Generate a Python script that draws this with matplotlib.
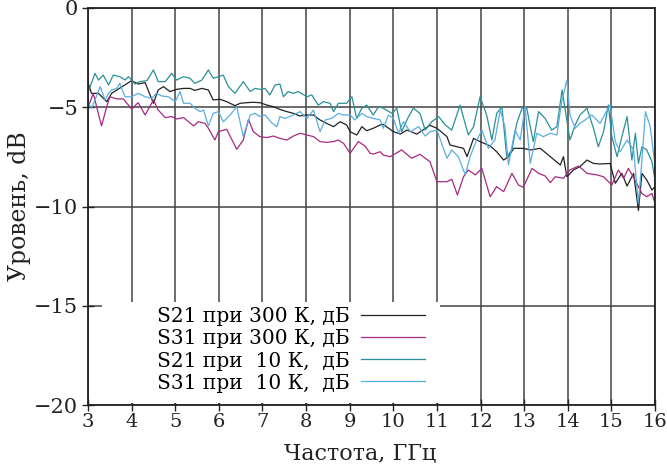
import matplotlib
matplotlib.use("Agg")
import matplotlib.pyplot as plt
from matplotlib.patches import Rectangle

plt.rcParams['font.family'] = ['DejaVu Serif']
plt.rcParams['mathtext.fontset'] = 'dejavuserif'

# S21 при 300 К
f_s21_300 = [3.01, 3.08, 3.24, 3.43, 3.54, 4.00, 4.15, 4.31, 4.50, 4.61, 4.73, 4.88, 5.03,
             5.19, 5.34, 5.45, 5.61, 5.76, 5.87, 6.03, 6.18, 6.37, 6.49, 6.64, 6.79, 6.94,
             7.10, 7.25, 7.40, 7.56, 7.71, 7.86, 8.02, 8.17, 8.32, 8.47, 8.63, 8.78, 8.93,
             9.01, 9.16, 9.28, 9.39, 9.54, 9.70, 9.77, 10.0, 10.16, 10.31, 10.54, 10.84,
             11.0, 11.23, 11.30, 11.46, 11.61, 11.69, 11.84, 11.99, 12.22, 12.37, 12.53,
             12.64, 12.76, 12.98, 13.14, 13.37, 13.60, 13.83, 13.90, 13.98, 14.13, 14.28,
             14.44, 14.59, 14.74, 14.97, 15.09, 15.24, 15.36, 15.51, 15.62, 15.70, 15.81,
             15.93, 16.0]
s21_300 = [-3.83, -4.30, -4.30, -4.72, -4.30, -3.66, -3.83, -3.76, -4.80, -4.13, -3.96, -4.21, -4.10,
           -4.05, -4.05, -4.15, -4.05, -4.13, -4.63, -4.60, -4.72, -4.92, -4.80, -4.77, -4.75, -4.77,
           -4.89, -4.97, -5.11, -5.22, -5.31, -5.44, -5.39, -5.39, -5.64, -5.81, -5.98, -5.73, -5.89,
           -6.23, -6.40, -5.98, -6.18, -6.06, -5.89, -5.86, -6.23, -6.35, -6.15, -6.35, -5.91,
           -6.06, -6.48, -6.90, -6.99, -7.07, -7.49, -6.57, -6.73, -6.95, -7.24, -7.66,
           -7.49, -7.07, -7.07, -7.15, -7.07, -7.49, -7.91, -7.49, -8.50, -8.16, -7.99,
           -7.66, -7.83, -7.86, -7.83, -8.83, -8.33, -8.97, -8.33, -10.2, -8.33, -8.66,
           -9.17, -9.00]

# S31 при 300 К
f_s31_300 = [3.01, 3.12, 3.31, 3.43, 3.50, 3.66, 3.81, 4.00, 4.15, 4.31, 4.50, 4.61, 4.77, 4.92,
             5.03, 5.19, 5.42, 5.53, 5.68, 5.76, 5.91, 5.99, 6.18, 6.41, 6.56, 6.68, 6.79, 6.94,
             7.10, 7.25, 7.40, 7.56, 7.71, 7.86, 8.02, 8.17, 8.32, 8.47, 8.63, 8.74, 8.86, 9.01,
             9.09, 9.20, 9.35, 9.47, 9.54, 9.70, 9.77, 9.93, 10.19, 10.42, 10.61, 10.84, 11.0,
             11.23, 11.34, 11.47, 11.61, 11.72, 11.88, 12.03, 12.22, 12.37, 12.53, 12.72, 12.87,
             12.98, 13.18, 13.33, 13.48, 13.60, 13.71, 13.90, 14.05, 14.25, 14.44, 14.67, 14.82,
             15.01, 15.16, 15.28, 15.39, 15.58, 15.70, 15.81, 15.93, 16.0]
s31_300 = [-4.97, -4.30, -5.94, -4.97, -4.47, -4.58, -4.58, -5.09, -4.77, -5.39, -4.63, -5.14, -5.52, -5.47,
           -5.59, -5.52, -5.94, -5.73, -5.81, -6.06, -6.65, -6.23, -6.11, -7.12, -6.65, -5.61, -6.23, -6.48,
           -6.53, -6.45, -6.57, -6.65, -6.45, -6.31, -6.40, -6.48, -6.73, -6.77, -6.73, -6.65, -6.82, -7.32,
           -7.07, -6.73, -6.95, -7.32, -7.36, -7.24, -7.41, -7.49, -7.15, -7.57, -7.37, -7.74, -8.75,
           -8.75, -8.63, -9.42, -8.50, -8.16, -8.41, -8.08, -9.51, -9.00, -9.25, -8.33, -8.92,
           -9.03, -8.08, -8.33, -8.46, -8.80, -8.50, -8.58, -8.16, -7.96, -8.33, -8.41, -8.50,
           -8.92, -8.16, -8.58, -8.08, -8.83, -9.34, -9.51, -9.34, -9.84]

# S21 при 10 К
f_s21_10 = [3.01, 3.16, 3.24, 3.35, 3.47, 3.58, 3.73, 3.85, 3.93, 4.08, 4.19, 4.35, 4.50, 4.61,
            4.77, 4.92, 5.03, 5.19, 5.34, 5.45, 5.61, 5.76, 5.87, 5.99, 6.10, 6.22, 6.37, 6.56,
            6.72, 6.83, 6.94, 7.06, 7.17, 7.29, 7.40, 7.48, 7.59, 7.71, 7.82, 8.02, 8.13, 8.28,
            8.40, 8.55, 8.63, 8.74, 8.93, 9.05, 9.16, 9.28, 9.39, 9.54, 9.66, 9.77, 9.97, 10.08,
            10.19, 10.35, 10.46, 10.61, 10.73, 10.88, 11.04, 11.19, 11.34, 11.53, 11.72, 11.84,
            11.99, 12.14, 12.26, 12.37, 12.49, 12.60, 12.72, 12.83, 12.95, 13.06, 13.14, 13.21,
            13.33, 13.48, 13.63, 13.75, 13.87, 14.05, 14.17, 14.28, 14.44, 14.59, 14.70, 14.82,
            14.93, 15.01, 15.13, 15.24, 15.36, 15.47, 15.55, 15.62, 15.70, 15.81, 15.93, 16.0]
s21_10 = [-4.21, -3.29, -3.63, -3.38, -3.88, -3.38, -3.46, -3.63, -3.46, -3.83, -3.71, -3.66, -3.12, -3.71,
          -3.71, -3.29, -3.63, -3.46, -3.54, -3.80, -3.63, -3.12, -3.54, -3.46, -3.38, -3.96, -4.30, -3.71,
          -4.21, -4.05, -4.10, -4.05, -4.38, -3.88, -3.83, -4.47, -4.21, -4.30, -4.21, -4.47, -4.38, -4.89,
          -4.72, -4.80, -5.22, -4.80, -4.80, -4.47, -5.56, -5.05, -4.89, -5.39, -4.97, -5.05, -5.31, -5.05,
          -6.23, -5.47, -5.05, -5.31, -6.15, -5.73, -5.47, -5.89, -6.15, -4.89, -6.40, -5.98,
          -4.47, -5.39, -6.65, -5.31, -4.97, -7.49, -7.15, -5.81, -5.05, -5.05, -5.98, -6.73,
          -5.22, -5.56, -6.15, -5.98, -4.13, -6.65, -5.89, -5.39, -5.05, -6.06, -6.99, -6.23,
          -4.89, -6.48, -7.49, -6.48, -5.47, -7.66, -6.31, -7.83, -6.99, -7.15, -7.74, -8.66]

# S31 при 10 К
f_s31_10 = [3.01, 3.08, 3.16, 3.28, 3.39, 3.47, 3.54, 3.66, 3.73, 3.85, 4.00, 4.15, 4.31, 4.46,
            4.57, 4.69, 4.84, 5.00, 5.11, 5.19, 5.34, 5.45, 5.57, 5.65, 5.76, 5.87, 5.99, 6.10,
            6.26, 6.41, 6.56, 6.72, 6.83, 6.94, 7.06, 7.21, 7.33, 7.40, 7.52, 7.71, 7.86, 8.02,
            8.17, 8.32, 8.44, 8.59, 8.74, 8.86, 9.01, 9.12, 9.28, 9.39, 9.54, 9.70, 9.77, 9.89,
            10.0, 10.12, 10.23, 10.39, 10.58, 10.73, 10.84, 11.0, 11.23, 11.34, 11.49, 11.65,
            11.76, 11.88, 12.03, 12.18, 12.33, 12.45, 12.56, 12.64, 12.79, 12.91, 13.02, 13.14,
            13.29, 13.44, 13.60, 13.75, 13.86, 13.98, 14.05, 14.17, 14.28, 14.40, 14.55, 14.74,
            14.86, 14.97, 15.09, 15.20, 15.36, 15.51, 15.62, 15.70, 15.78, 15.89, 16.0]
s31_10 = [-4.80, -5.05, -4.63, -3.96, -4.63, -4.30, -4.13, -4.05, -3.80, -4.47, -4.47, -4.30, -4.47, -4.55,
          -4.30, -4.43, -4.47, -4.72, -4.21, -4.80, -4.80, -5.05, -5.22, -5.14, -5.94, -5.31, -5.22, -5.73,
          -5.39, -4.97, -6.48, -5.39, -5.31, -5.47, -5.39, -5.78, -5.98, -5.47, -5.56, -5.39, -5.22, -5.56,
          -5.14, -6.23, -5.64, -5.56, -5.31, -5.39, -5.39, -5.64, -5.31, -5.47, -5.56, -5.64, -6.06, -5.39,
          -5.56, -6.31, -5.73, -6.23, -5.98, -6.45, -6.23, -6.15, -7.57, -7.15, -7.49, -8.41,
          -7.49, -6.82, -6.15, -7.07, -6.65, -5.14, -5.98, -7.91, -6.15, -6.65, -4.97, -7.83,
          -6.31, -6.48, -6.31, -6.40, -4.72, -3.63, -5.39, -6.06, -5.81, -5.64, -5.39, -5.81,
          -5.31, -4.89, -6.73, -7.24, -6.65, -7.15, -9.84, -7.66, -5.22, -5.98, -7.91]

labels = ['S21 при 300 К, дБ', 'S31 при 300 К, дБ', 'S21 при  10 К,  дБ', 'S31 при  10 К,  дБ']
x_ticks = list(range(3, 17))
y_ticks = [0, -5, -10, -15, -20]

fig = plt.figure(figsize=(6.67, 4.70), dpi=100)
ax = fig.add_axes([88 / 667, 65 / 470, 567 / 667, 397 / 470])

ax.plot(f_s21_300, s21_300, color='#222222', lw=0.9, label=labels[0])
ax.plot(f_s31_300, s31_300, color='#a52a80', lw=0.9, label=labels[1])
ax.plot(f_s21_10, s21_10, color='#2a9098', lw=0.9, label=labels[2])
ax.plot(f_s31_10, s31_10, color='#5aaee0', lw=0.9, label=labels[3])

ax.set_xlim(3, 16)
ax.set_ylim(-20, 0)
ax.set_xticks(x_ticks)
ax.set_yticks(y_ticks)
ax.set_yticklabels(['0', '\u22125', '\u221210', '\u221215', '\u221220'])
ax.tick_params(axis='x', direction='inout', length=8, width=1, labelsize=14, pad=2, colors='#222222')
ax.tick_params(axis='y', direction='inout', length=8, width=1, labelsize=15, pad=3, colors='#222222')
ax.grid(True, color='#444444', lw=1.1)
for s in ax.spines.values():
    s.set_color('#222222')
    s.set_linewidth(1.3)

# белая подложка под легендой
ax.add_patch(Rectangle((14 / 567, 2 / 397), 338 / 567, 101 / 397, transform=ax.transAxes,
                       facecolor='white', edgecolor='none', zorder=1.8))

ax.legend(loc='center right', bbox_to_anchor=(337 / 567, 55 / 397), frameon=False,
          markerfirst=False, fontsize=14.5, handlelength=3.2, handletextpad=0.55,
          labelspacing=0.15, borderpad=0, borderaxespad=0)

ax.set_xlabel('Частота, ГГц', fontsize=16, color='#222222')
ax.xaxis.set_label_coords(272 / 567, -38 / 397)
ax.set_ylabel('Уровень, dB', fontsize=17, color='#222222', labelpad=2)

fig.savefig('out.png', dpi=100)
